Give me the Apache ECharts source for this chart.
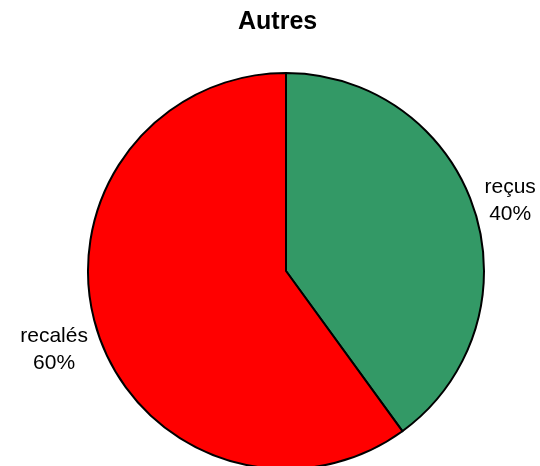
<!DOCTYPE html>
<html>
<head>
<meta charset="utf-8">
<script src="https://cdn.jsdelivr.net/npm/echarts@6/dist/echarts.min.js"></script>
<style>
	html, body { margin: 0; padding: 0; background: #fff; }
	#myChart { width: 540px; height: 466px; }
</style>
</head>
<body>
<div id="myChart"></div>
<script>
var title = "Autres";
var categories = ["reçus", "recalés"];
var values = [40, 60];
var colors = ["#339966", "#ff0000"];

var pieCenter = [286, 271];
var pieRadius = 198;

var total = values.reduce(function (a, b) { return a + b; }, 0);

var myChart = echarts.init(document.getElementById("myChart"));
myChart.setOption({
	animation: false,
	title: {
		text: title,
		left: 233,
		top: 5,
		textStyle: {
			fontFamily: "Liberation Sans, Arial",
			fontSize: 25,
			fontWeight: "bold",
			color: "#000"
		}
	},
	series: [
		{
			type: "pie",
			center: pieCenter,
			radius: pieRadius,
			startAngle: 90,
			clockwise: true,
			avoidLabelOverlap: false,
			itemStyle: {
				borderColor: "#000",
				borderWidth: 2
			},
			label: {
				show: true,
				position: "outside",
				overflow: "none",
				formatter: "{b}\n{d}%",
				fontFamily: "Liberation Sans, Arial",
				fontSize: 21,
				lineHeight: 27,
				color: "#000"
			},
			labelLine: { show: false },
			// put each label just outside the middle of its slice
			labelLayout: function (p) {
				var before = 0;
				for (var i = 0; i < p.dataIndex; i++) before += values[i];
				var mid = (before + values[p.dataIndex] / 2) / total * Math.PI * 2;
				var dist = pieRadius + 12 + p.labelRect.width / 2;
				return {
					x: pieCenter[0] + Math.sin(mid) * dist,
					y: pieCenter[1] - Math.cos(mid) * dist + 3,
					align: "center",
					verticalAlign: "middle"
				};
			},
			emphasis: { disabled: true },
			data: categories.map(function (c, i) {
				return { name: c, value: values[i], itemStyle: { color: colors[i] } };
			})
		}
	]
});
</script>
</body>
</html>
